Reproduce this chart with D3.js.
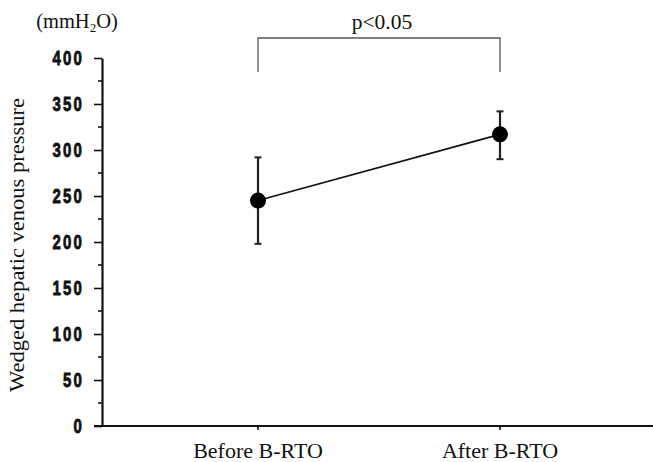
<!DOCTYPE html>
<html>
<head>
<meta charset="utf-8">
<script src="https://cdn.jsdelivr.net/npm/d3@7"></script>
<style>
  body { margin: 0; background: #fff; }
  svg { display: block; }
</style>
</head>
<body>
<div id="chart"></div>
<script>
// data
const groups = ["Before B-RTO", "After B-RTO"];
const means = [245, 317];
const upper = [292, 342];
const lower = [198, 290];
const yTicks = [0, 50, 100, 150, 200, 250, 300, 350, 400];
const yMinorTicks = [25, 75, 125, 175, 225, 275, 325, 375];
const pLabel = "p<0.05";

const width = 653;
const height = 462;
const margin = { top: 58, right: 0, bottom: 36, left: 102 };

const svg = d3.select("#chart")
  .append("svg")
  .attr("width", width)
  .attr("height", height);

const y = d3.scaleLinear()
  .domain([0, 400])
  .range([height - margin.bottom, margin.top]);

const x = d3.scalePoint()
  .domain(groups)
  .range([258, 500]);

const tickFont = "'Liberation Sans', 'DejaVu Sans', sans-serif";
const serif = "'Liberation Serif', 'DejaVu Serif', serif";

// y axis, major ticks (labels drawn below, stretched to look condensed)
const yAxis = svg.append("g")
  .attr("transform", `translate(${margin.left},0)`)
  .call(d3.axisLeft(y).tickValues(yTicks).tickSize(8).tickFormat("").tickSizeOuter(0));

yAxis.select(".domain").attr("stroke-width", 2.2).attr("stroke", "#111");
yAxis.selectAll(".tick line").attr("stroke-width", 1.6).attr("stroke", "#111");

svg.append("g").selectAll("text")
  .data(yTicks)
  .join("text")
  .attr("transform", d => `translate(${margin.left - 18},${y(d) + 7.2}) scale(1,1.33)`)
  .attr("text-anchor", "end")
  .attr("font-family", tickFont)
  .attr("font-weight", "bold")
  .attr("font-size", 15)
  .attr("letter-spacing", 2.2)
  .attr("fill", "#111")
  .attr("stroke", "#111")
  .attr("stroke-width", 0.6)
  .text(d => d);

// minor ticks
svg.append("g")
  .selectAll("line")
  .data(yMinorTicks)
  .join("line")
  .attr("x1", margin.left - 4)
  .attr("x2", margin.left)
  .attr("y1", d => y(d))
  .attr("y2", d => y(d))
  .attr("stroke", "#111")
  .attr("stroke-width", 1.6);

// x axis, runs to the right edge
const xAxis = svg.append("g")
  .attr("transform", `translate(0,${y(0)})`);

xAxis.append("line")
  .attr("x1", margin.left - 8)
  .attr("x2", width)
  .attr("stroke", "#111")
  .attr("stroke-width", 2.2);

xAxis.selectAll(".xtick")
  .data(groups)
  .join("line")
  .attr("class", "xtick")
  .attr("x1", d => x(d))
  .attr("x2", d => x(d))
  .attr("y1", 0)
  .attr("y2", 4)
  .attr("stroke", "#111")
  .attr("stroke-width", 1.6);

xAxis.selectAll(".xlabel")
  .data(groups)
  .join("text")
  .attr("class", "xlabel")
  .attr("x", d => x(d))
  .attr("y", 31.5)
  .attr("text-anchor", "middle")
  .attr("font-family", serif)
  .attr("font-size", 22)
  .attr("fill", "#111")
  .text(d => d);

// unit label
const unit = svg.append("text")
  .attr("x", 77)
  .attr("y", 28)
  .attr("text-anchor", "middle")
  .attr("font-family", serif)
  .attr("font-size", 20.5)
  .attr("fill", "#111");
unit.append("tspan").text("(mmH");
unit.append("tspan").attr("font-size", 13).attr("dy", 4).text("2");
unit.append("tspan").attr("dy", -4).text("O)");

// y axis title
svg.append("text")
  .attr("transform", `translate(24,245) rotate(-90)`)
  .attr("text-anchor", "middle")
  .attr("font-family", serif)
  .attr("font-size", 20)
  .attr("textLength", 294)
  .attr("lengthAdjust", "spacingAndGlyphs")
  .attr("fill", "#111")
  .text("Wedged hepatic venous pressure");

// significance bracket
const bracketTop = 38;
const bracketBottom = 72;
svg.append("path")
  .attr("d", `M${x(groups[0])},${bracketBottom}V${bracketTop}H${x(groups[1])}V${bracketBottom}`)
  .attr("fill", "none")
  .attr("stroke", "#555")
  .attr("stroke-width", 1.3);

svg.append("text")
  .attr("x", (x(groups[0]) + x(groups[1])) / 2 + 3)
  .attr("y", 29)
  .attr("text-anchor", "middle")
  .attr("font-family", serif)
  .attr("font-size", 21.5)
  .attr("fill", "#111")
  .text(pLabel);

// data marks
const rows = groups.map((g, i) => ({ g, mean: means[i], hi: upper[i], lo: lower[i] }));

// error bars
const bars = svg.append("g").selectAll("g")
  .data(rows)
  .join("g");

bars.append("line")
  .attr("x1", d => x(d.g))
  .attr("x2", d => x(d.g))
  .attr("y1", d => y(d.hi))
  .attr("y2", d => y(d.lo))
  .attr("stroke", "#222")
  .attr("stroke-width", 2.2);

bars.selectAll(".cap")
  .data(d => [d.hi, d.lo].map(v => ({ g: d.g, v })))
  .join("line")
  .attr("class", "cap")
  .attr("x1", d => x(d.g) - 3.5)
  .attr("x2", d => x(d.g) + 3.5)
  .attr("y1", d => y(d.v))
  .attr("y2", d => y(d.v))
  .attr("stroke", "#222")
  .attr("stroke-width", 2);

// connecting line
svg.append("path")
  .datum(rows)
  .attr("d", d3.line().x(d => x(d.g)).y(d => y(d.mean)))
  .attr("fill", "none")
  .attr("stroke", "#111")
  .attr("stroke-width", 1.6);

// points
svg.append("g").selectAll("circle")
  .data(rows)
  .join("circle")
  .attr("cx", d => x(d.g))
  .attr("cy", d => y(d.mean))
  .attr("r", 8)
  .attr("fill", "#000");
</script>
</body>
</html>
